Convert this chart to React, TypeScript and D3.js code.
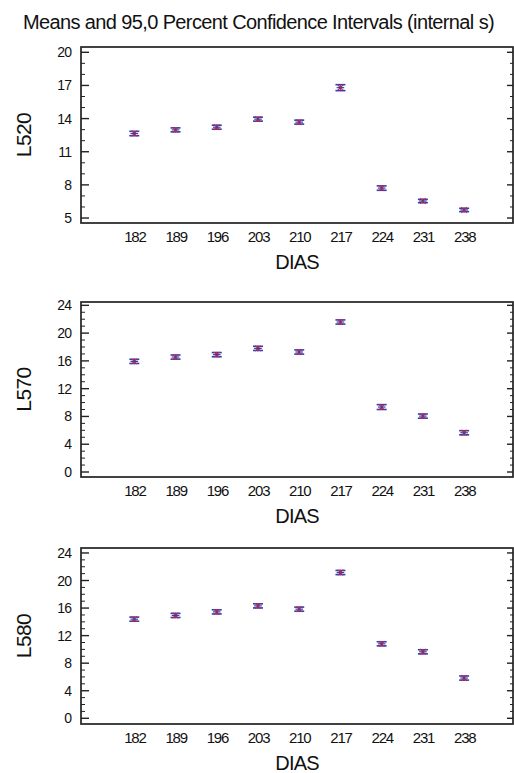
import React from "react";
import * as d3 from "d3";

const days = [182, 189, 196, 203, 210, 217, 224, 231, 238];
const l520 = [12.65, 12.98, 13.22, 13.95, 13.68, 16.8, 7.71, 6.54, 5.73];
const l520Err = [0.2, 0.18, 0.18, 0.18, 0.18, 0.27, 0.2, 0.15, 0.15];
const l570 = [15.93, 16.55, 16.9, 17.8, 17.28, 21.6, 9.35, 8.05, 5.65];
const l570Err = [0.3, 0.3, 0.3, 0.3, 0.3, 0.3, 0.35, 0.3, 0.3];
const l580 = [14.39, 14.93, 15.45, 16.32, 15.84, 21.16, 10.81, 9.65, 5.84];
const l580Err = [0.3, 0.3, 0.3, 0.3, 0.3, 0.3, 0.3, 0.3, 0.3];
const xTickLabels = ["182", "189", "196", "203", "210", "217", "224", "231", "238"];
const title = "Means and 95,0 Percent Confidence Intervals (internal s)";
const xTitle = "DIAS";

const FONT = "'Liberation Sans', Arial, sans-serif";
const LEFT = 81;
const RIGHT = 513;

const panels = [
  { name: "L520", values: l520, err: l520Err, top: 47, bottom: 223, domain: [4.55, 20.48], major: [5, 8, 11, 14, 17, 20], minorStep: 1, minorRange: [5, 20] },
  { name: "L570", values: l570, err: l570Err, top: 302, bottom: 477, domain: [-0.72, 24.48], major: [0, 4, 8, 12, 16, 20, 24], minorStep: 1, minorRange: [0, 24] },
  { name: "L580", values: l580, err: l580Err, top: 548, bottom: 724, domain: [-0.83, 24.72], major: [0, 4, 8, 12, 16, 20, 24], minorStep: 1, minorRange: [0, 24] },
];

const x = d3.scaleLinear().domain([172.95, 246.3]).range([LEFT, RIGHT]);

function Panel({ p }: { p: (typeof panels)[number] }) {
  const y = d3.scaleLinear().domain(p.domain).range([p.bottom, p.top]);
  const minors = d3.range(p.minorRange[0], p.minorRange[1] + 0.001, p.minorStep).filter((v) => !p.major.includes(v));
  const cx = (LEFT + RIGHT) / 2;
  const cy = (p.top + p.bottom) / 2;
  return (
    <g>
      <rect x={LEFT} y={p.top} width={RIGHT - LEFT} height={p.bottom - p.top} fill="none" stroke="#222" strokeWidth={1.7} />
      {p.major.map((v) => (
        <g key={"M" + v}>
          <line x1={LEFT} x2={LEFT + 8} y1={y(v)} y2={y(v)} stroke="#222" strokeWidth={1.4} />
          <line x1={RIGHT} x2={RIGHT - 6} y1={y(v)} y2={y(v)} stroke="#222" strokeWidth={1.4} />
          <text x={71.5} y={y(v) + 5} textAnchor="end" fontSize={14} letterSpacing={-0.6} fontFamily={FONT} fill="#111">{v}</text>
        </g>
      ))}
      {minors.map((v) => (
        <g key={"m" + v}>
          <line x1={LEFT} x2={LEFT + 4} y1={y(v)} y2={y(v)} stroke="#222" strokeWidth={1} />
          <line x1={RIGHT} x2={RIGHT - 3} y1={y(v)} y2={y(v)} stroke="#222" strokeWidth={1} />
        </g>
      ))}
      {days.map((d, i) => (
        <text key={"xl" + d} x={x(d) + 0.6} y={p.bottom + 19} textAnchor="middle" fontSize={15} letterSpacing={-1.2} fontFamily={FONT} fill="#111">{xTickLabels[i]}</text>
      ))}
      <text x={cx} y={p.bottom + 46} textAnchor="middle" fontSize={20} letterSpacing={-0.8} fontFamily={FONT} fill="#111">{xTitle}</text>
      <text transform={`translate(31,${cy}) rotate(-90)`} textAnchor="middle" fontSize={21} letterSpacing={-0.6} fontFamily={FONT} fill="#111">{p.name}</text>
      {days.map((d, i) => {
        const px = x(d);
        const v = p.values[i];
        const e = p.err[i];
        const y1 = y(v + e);
        const y2 = y(v - e);
        const ym = y(v);
        const s = 2.8;
        return (
          <g key={"pt" + d}>
            <line x1={px} x2={px} y1={y1} y2={y2} stroke="#3040b0" strokeWidth={1.2} />
            <line x1={px - 5} x2={px + 5} y1={y1} y2={y1} stroke="#3040b0" strokeWidth={1.6} />
            <line x1={px - 5} x2={px + 5} y1={y2} y2={y2} stroke="#3040b0" strokeWidth={1.6} />
            <line x1={px - s} x2={px + s} y1={ym - s} y2={ym + s} stroke="#c02848" strokeWidth={1.1} />
            <line x1={px - s} x2={px + s} y1={ym + s} y2={ym - s} stroke="#c02848" strokeWidth={1.1} />
            <line x1={px} x2={px} y1={ym - s} y2={ym + s} stroke="#c02848" strokeWidth={1.1} />
            <line x1={px - s - 1} x2={px + s + 1} y1={ym} y2={ym} stroke="#3040b0" strokeWidth={1.2} />
          </g>
        );
      })}
    </g>
  );
}

export default function App() {
  return (
    <svg width={514} height={773} style={{ position: "absolute", left: 0, top: 0, background: "#fff" }}>
      <rect x={0} y={0} width={514} height={773} fill="#fff" />
      <text x={258.5} y={29} textAnchor="middle" fontSize={20} letterSpacing={-0.62} fontFamily={FONT} fill="#111">{title}</text>
      {panels.map((p) => (
        <Panel key={p.name} p={p} />
      ))}
    </svg>
  );
}
